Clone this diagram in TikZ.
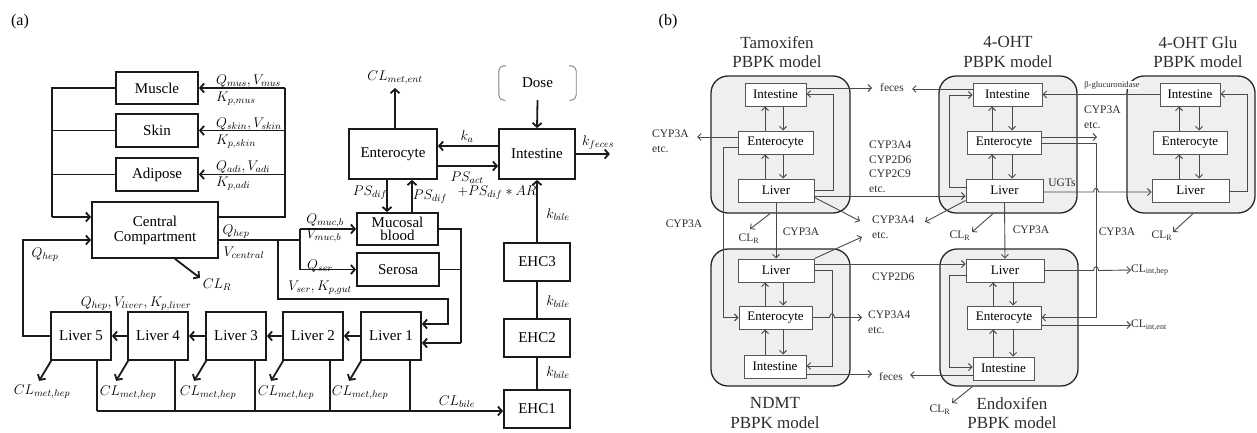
\RequirePackage{fix-cm}
\documentclass[tikz,border=0pt]{standalone}
\usepackage{fontspec}
\setmainfont{Liberation Serif}
\usetikzlibrary{arrows.meta}
\definecolor{ablack}{HTML}{1A1A1A}
\definecolor{bline}{HTML}{4A4A4A}
\definecolor{bgray}{HTML}{555555}
\definecolor{bdark}{HTML}{262626}
\definecolor{bfill}{HTML}{EFEFEF}
\definecolor{btext}{HTML}{2E2E2E}
\begin{document}
\begin{tikzpicture}[x=1pt,y=-1pt,
  sz/.style n args={2}{minimum width=#1pt,minimum height=#2pt},
  abox/.style={draw=ablack,line width=1.8pt,inner sep=0pt,align=center,font=\fontsize{15}{15}\selectfont},
  al/.style={draw=ablack,line width=1.8pt},
  arr/.style={al,-{Straight Barb[length=4pt,width=9pt]}},
  mlab/.style={inner sep=0pt,font=\fontsize{14}{16}\selectfont},
  bbox/.style={draw=bgray,fill=white,line width=1pt,inner sep=0pt,font=\fontsize{13}{15}\selectfont},
  bl/.style={draw=bline,line width=0.9pt},
  barr/.style={bl,-{Straight Barb[length=3.5pt,width=7pt]}},
  cont/.style={draw=bdark,fill=bfill,line width=1.3pt,rounded corners=17pt,inner sep=0pt},
  blab/.style={inner sep=0pt,text=btext,font=\fontsize{11.5}{14.5}\selectfont,align=left},
  title/.style={inner sep=0pt,text=btext,align=center,font=\fontsize{17}{19.5}\selectfont},
]
\useasboundingbox (0,0) rectangle (1257,432);

% ================= Panel (a) =================
\node[inner sep=0pt,font=\fontsize{16}{18}\selectfont] (pa) at (20,22) {(a)};

\node[abox,sz={82}{32}] (muscle) at (157,88) {Muscle};
\node[abox,sz={82}{33}] (skin) at (157,130.5) {Skin};
\node[abox,sz={82}{33}] (adipose) at (157,174.5) {Adipose};
\node[abox,sz={126}{56}] (central) at (155,230) {Central\\Compartment};
\node[abox,sz={88}{50}] (entero) at (393,154) {Enterocyte};
\node[abox,sz={76}{50}] (intest) at (537,154) {Intestine};
\node[inner sep=0pt,sz={77}{34},font=\fontsize{15}{15}\selectfont] (dose) at (537.5,83) {Dose};
\node[abox,sz={81}{32},font=\fontsize{15}{13.5}\selectfont] (mucosal) at (397.5,229) {Mucosal\\blood};
\node[abox,sz={82}{33}] (serosa) at (398,269.5) {Serosa};
\node[abox,sz={60}{48}] (liver5) at (81,336) {Liver 5};
\node[abox,sz={60}{48}] (liver4) at (158,336) {Liver 4};
\node[abox,sz={60}{48}] (liver3) at (236,336) {Liver 3};
\node[abox,sz={60}{48}] (liver2) at (313,336) {Liver 2};
\node[abox,sz={60}{48}] (liver1) at (391,336) {Liver 1};
\node[abox,sz={66}{38}] (ehc3) at (537,262) {EHC3};
\node[abox,sz={66}{38}] (ehc2) at (537,338) {EHC2};
\node[abox,sz={66}{38}] (ehc1) at (537,409) {EHC1};

% dose brackets
\draw[draw=gray,line width=0.9pt,rounded corners=5pt]
  ([xshift=7pt]dose.north west) -- (dose.north west) -- (dose.south west) -- ([xshift=7pt]dose.south west);
\draw[draw=gray,line width=0.9pt,rounded corners=5pt]
  ([xshift=-7pt]dose.north east) -- (dose.north east) -- (dose.south east) -- ([xshift=-7pt]dose.south east);

% tissues to central
\draw[al] (muscle.west) -- (52,88) -- (52,217);
\draw[al] (skin.west) -- (52,130.5);
\draw[al] (adipose.west) -- (52,174.5);
\draw[arr] (52,217) -- (central.west |- 0,217);
\draw[al] (central.east |- 0,217) -- (285,217) -- (285,88);
\draw[arr] (285,88) -- (muscle.east);
\draw[arr] (285,130.5) -- (skin.east);
\draw[arr] (285,174.5) -- (adipose.east);
\draw[arr] (liver5.west) -- (23,336) -- (23,240) -- (central.west |- 0,240);
\draw[al] (central.east |- 0,240) -- (300,240);
\draw[al] (300,229) -- (300,269.5);
\draw[arr] (300,229) -- (mucosal.west);
\draw[arr] (300,269.5) -- (serosa.west);
\draw[arr] (278,240) -- (278,299) -- (448,299) -- (448,324) -- (liver1.east |- 0,324);
\draw[al] (mucosal.east) -- (461,229) -- (461,343);
\draw[al] (serosa.east) -- (461,269.5);
\draw[arr] (461,343) -- (liver1.east |- 0,343);
\draw[arr] (central.south -| 175,0) -- ++(25,19);

% liver chain
\draw[arr] (liver1.west) -- (liver2.east);
\draw[arr] (liver2.west) -- (liver3.east);
\draw[arr] (liver3.west) -- (liver4.east);
\draw[arr] (liver4.west) -- (liver5.east);
\foreach \n in {1,...,5}{
  \draw[arr] ([xshift=1pt]liver\n.south west) -- ++(-12,20);
}
% bile
\draw[al] (liver5.south -| 97,0) -- (97,411);
\draw[al] (liver4.south -| 175,0) -- (175,411);
\draw[al] (liver3.south -| 255,0) -- (255,411);
\draw[al] (liver2.south -| 330,0) -- (330,411);
\draw[al] (liver1.south -| 410,0) -- (410,411);
\draw[arr] (97,411) -- (ehc1.west |- 0,411);
\draw[al] (ehc1.north) -- (ehc2.south);
\draw[al] (ehc2.north) -- (ehc3.south);
\draw[arr] (ehc3.north) -- (intest.south);

% gut
\draw[arr] (dose.south) -- (intest.north);
\draw[arr] (intest.east) -- ++(34,0);
\draw[arr] (intest.west |- 0,146) -- (entero.east |- 0,146);
\draw[arr] (entero.east |- 0,166) -- (intest.west |- 0,166);
\draw[arr] (entero.north -| 395,0) -- (395,88);
\draw[arr] (entero.south -| 387,0) -- (mucosal.north -| 387,0);
\draw[arr] (mucosal.north -| 412,0) -- (entero.south -| 412,0);

% labels (a)
\node[mlab,anchor=west] at (216,81) {$Q_{mus},V_{mus}$};
\node[mlab,anchor=west] at (216,99) {$K_{p,mus}$};
\node[mlab,anchor=west] at (216,124) {$Q_{skin},V_{skin}$};
\node[mlab,anchor=west] at (216,142) {$K_{p,skin}$};
\node[mlab,anchor=west] at (216,167) {$Q_{adi},V_{adi}$};
\node[mlab,anchor=west] at (216,184) {$K_{p,adi}$};
\node[mlab] at (236,232) {$Q_{hep}$};
\node[mlab] at (244,253) {$V_{central}$};
\node[mlab] at (45,255) {$Q_{hep}$};
\node[mlab] at (217,285) {$CL_R$};
\node[mlab] at (325,221) {$Q_{muc,b}$};
\node[mlab] at (324,236) {$V_{muc,b}$};
\node[mlab] at (320,266) {$Q_{ser}$};
\node[mlab] at (320,288) {$V_{ser},K_{p,gut}$};
\node[mlab] at (136,304) {$Q_{hep},V_{liver},K_{p,liver}$};
\node[mlab] at (42,392) {$CL_{met,hep}$};
\node[mlab] at (128,393) {$CL_{met,hep}$};
\node[mlab] at (208,393) {$CL_{met,hep}$};
\node[mlab] at (286,393) {$CL_{met,hep}$};
\node[mlab] at (360,393) {$CL_{met,hep}$};
\node[mlab] at (457,402) {$CL_{bile}$};
\node[mlab] at (558,373) {$k_{bile}$};
\node[mlab] at (558,302) {$k_{bile}$};
\node[mlab] at (558,215) {$k_{bile}$};
\node[mlab] at (395,78) {$CL_{met,ent}$};
\node[mlab] at (467,137) {$k_a$};
\node[mlab] at (598,143) {$k_{feces}$};
\node[mlab] at (467,178) {$PS_{act}$};
\node[mlab] at (497,193) {$+PS_{dif}*AR$};
\node[mlab] at (370,193) {$PS_{dif}$};
\node[mlab] at (430,197) {$PS_{dif}$};

% ================= Panel (b) =================
\node[inner sep=0pt,font=\fontsize{16}{18}\selectfont] (pb) at (668,22) {(b)};

\node[cont,sz={139}{137}] (tamc) at (780.5,144.5) {};
\node[cont,sz={139}{137}] (ndmc) at (780.5,317.5) {};
\node[cont,sz={138}{137}] (ohtc) at (1008,144.5) {};
\node[cont,sz={138}{137}] (endc) at (1009,317.5) {};
\node[cont,sz={128}{137}] (gluc) at (1191,144.5) {};

\node[title] at (777,52) {Tamoxifen\\PBPK model};
\node[title] at (1008,52) {4-OHT\\PBPK model};
\node[title] at (1198,52) {4-OHT Glu\\PBPK model};
\node[title] at (775,413) {NDMT\\PBPK model};
\node[title] at (1012,413) {Endoxifen\\PBPK model};

\node[bbox,sz={61}{23}] (tI) at (775.5,94.5) {Intestine};
\node[bbox,sz={75}{23}] (tE) at (775.5,142.5) {Enterocyte};
\node[bbox,sz={76}{23}] (tL) at (776,190.5) {Liver};
\node[bbox,sz={76}{23}] (nL) at (776,270.5) {Liver};
\node[bbox,sz={73}{23}] (nE) at (775.5,317.5) {Enterocyte};
\node[bbox,sz={62}{23}] (nI) at (775,366.5) {Intestine};
\node[bbox,sz={69}{23}] (oI) at (1007.5,94.5) {Intestine};
\node[bbox,sz={74}{23}] (oE) at (1004,142.5) {Enterocyte};
\node[bbox,sz={77}{23}] (oL) at (1004.5,190.5) {Liver};
\node[bbox,sz={78}{23}] (xL) at (1005,270.5) {Liver};
\node[bbox,sz={74}{23}] (xE) at (1004,317.5) {Enterocyte};
\node[bbox,sz={61}{23}] (xI) at (1003.5,368.5) {Intestine};
\node[bbox,sz={60}{23}] (gI) at (1190,94.5) {Intestine};
\node[bbox,sz={74}{23}] (gE) at (1190,142.5) {Enterocyte};
\node[bbox,sz={77}{23}] (gL) at (1190.5,190.5) {Liver};

% inner arrows
\draw[barr] (tE.north -| 765,0) -- (tI.south -| 765,0);
\draw[barr] (tI.south -| 783,0) -- (tE.north -| 783,0);
\draw[barr] (tL.north -| 765,0) -- (tE.south -| 765,0);
\draw[barr] (tE.south -| 783,0) -- (tL.north -| 783,0);
\draw[barr] (nE.north -| 765,0) -- (nL.south -| 765,0);
\draw[barr] (nL.south -| 783,0) -- (nE.north -| 783,0);
\draw[barr] (nI.north -| 765,0) -- (nE.south -| 765,0);
\draw[barr] (nE.south -| 783,0) -- (nI.north -| 783,0);
\draw[barr] (oE.north -| 992,0) -- (oI.south -| 992,0);
\draw[barr] (oI.south -| 1012,0) -- (oE.north -| 1012,0);
\draw[barr] (oL.north -| 992,0) -- (oE.south -| 992,0);
\draw[barr] (oE.south -| 1012,0) -- (oL.north -| 1012,0);
\draw[barr] (xE.north -| 993,0) -- (xL.south -| 993,0);
\draw[barr] (xL.south -| 1013,0) -- (xE.north -| 1013,0);
\draw[barr] (xI.north -| 993,0) -- (xE.south -| 993,0);
\draw[barr] (xE.south -| 1013,0) -- (xI.north -| 1013,0);
\draw[barr] (gE.north -| 1179,0) -- (gI.south -| 1179,0);
\draw[barr] (gI.south -| 1199,0) -- (gE.north -| 1199,0);
\draw[barr] (gL.north -| 1179,0) -- (gE.south -| 1179,0);
\draw[barr] (gE.south -| 1199,0) -- (gL.north -| 1199,0);

% loops
\draw[barr] (tL.east |- 0,190) -- (833,190) -- (833,94) -- (tI.east |- 0,94);
\draw[barr] (nL.east |- 0,270) -- (832,270) -- (832,366) -- (nI.east |- 0,366);
\draw[barr] (oL.west |- 0,187) -- (949,187) -- (949,95) -- (oI.west |- 0,95);
\draw[barr] (xL.west |- 0,275) -- (949,275) -- (949,367) -- (xI.west |- 0,367);
\draw[barr] (gL.east |- 0,191) -- (1247,191) -- (1247,94) -- (gI.east |- 0,94);

% feces
\node[blab] (fec1) at (892,88) {feces};
\node[blab] (fec2) at (891,376) {feces};
\draw[barr] (tI.east |- 0,88) -- (872,88);
\draw[barr] (oI.west |- 0,89) -- (912,89);
\draw[barr] (nI.east |- 0,374) -- (872,374);
\draw[barr] (xI.west |- 0,375) -- (910,375);

% Tamoxifen connections
\node[blab,anchor=north west] at (652,130) {CYP3A\\etc.};
\draw[barr] (tE.west |- 0,137) -- (697,137);
\draw[barr] (tE.west |- 0,147) -- (723,147) -- (723,317.5) -- (nE.west);
\node[blab] at (684,224) {CYP3A};
\draw[barr] (tL.south) -- (nL.north);
\node[blab] at (801,232) {CYP3A};
\draw[barr] (tamc.south -| 770,0) -- (750,229);
\node[blab] at (749,239) {CL\textsubscript{R}};
\node[blab,anchor=north west] at (872,216) {CYP3A4\\etc.};
\draw[barr] ([yshift=5pt]tL.south east) -- (860,221);
\draw[barr] ([yshift=2pt]oL.south west) -- (925,222);
\draw[barr] (nL.north east) -- (862,237);
\draw[barr] (tL.east |- 0,196) -- (oL.west |- 0,196);
\node[blab,anchor=north west] at (869,141) {CYP3A4\\CYP2D6\\CYP2C9\\etc.};

% NDMT connections
\draw[barr] (nL.east |- 0,264) -- (xL.west |- 0,264);
\node[blab,anchor=west] at (872,277) {CYP2D6};
\draw[barr] (nE.east) -- (829.5,317.5) .. controls (829.5,312.5) and (834.5,312.5) .. (834.5,317.5) -- (862,317.5);
\node[blab,anchor=north west] at (868,311) {CYP3A4\\etc.};

% 4-OHT connections
\draw[barr] (oE.east |- 0,137) -- (1097,137);
\node[blab,anchor=north west] at (1084,106) {CYP3A\\etc.};
\draw[barr] (oE.east |- 0,143) -- (1096,143) -- (1096,317.5) -- (xE.east);
\node[blab] at (1117,232) {CYP3A};
\draw[barr] (oL.east |- 0,192) -- (1093.5,192) .. controls (1093.5,187) and (1098.5,187) .. (1098.5,192) -- (gL.west |- 0,192);
\node[blab] at (1062,183) {UGTs};
\draw[barr] (gI.west) -- (oI.east);
\node[inner sep=0.5pt,fill=white,text=btext,font=\fontsize{8.6}{10}\selectfont] at (1112,85) {β-glucuronidase};
\draw[barr] (oL.south) -- (xL.north);
\node[blab] at (1031,230) {CYP3A};
\draw[barr] (ohtc.south -| 993,0) -- (972,232);
\node[blab] at (960,236) {CL\textsubscript{R}};
\draw[barr] (gluc.south -| 1193,0) -- (1173,232);
\node[blab] at (1162,236) {CL\textsubscript{R}};

% Endoxifen connections
\node[blab,anchor=west] (clh) at (1131,270) {CL\textsubscript{int,hep}};
\node[blab,anchor=west] (cle) at (1131,325) {CL\textsubscript{int,ent}};
\draw[barr] (xL.east) -- (1093.5,270.5) .. controls (1093.5,265.5) and (1098.5,265.5) .. (1098.5,270.5) -- (clh.west);
\draw[barr] (xE.east |- 0,325) -- (cle.west);
\draw[barr] ([xshift=33pt]endc.south west) -- (952,403);
\node[blab] at (940,410) {CL\textsubscript{R}};
\end{tikzpicture}
\end{document}
